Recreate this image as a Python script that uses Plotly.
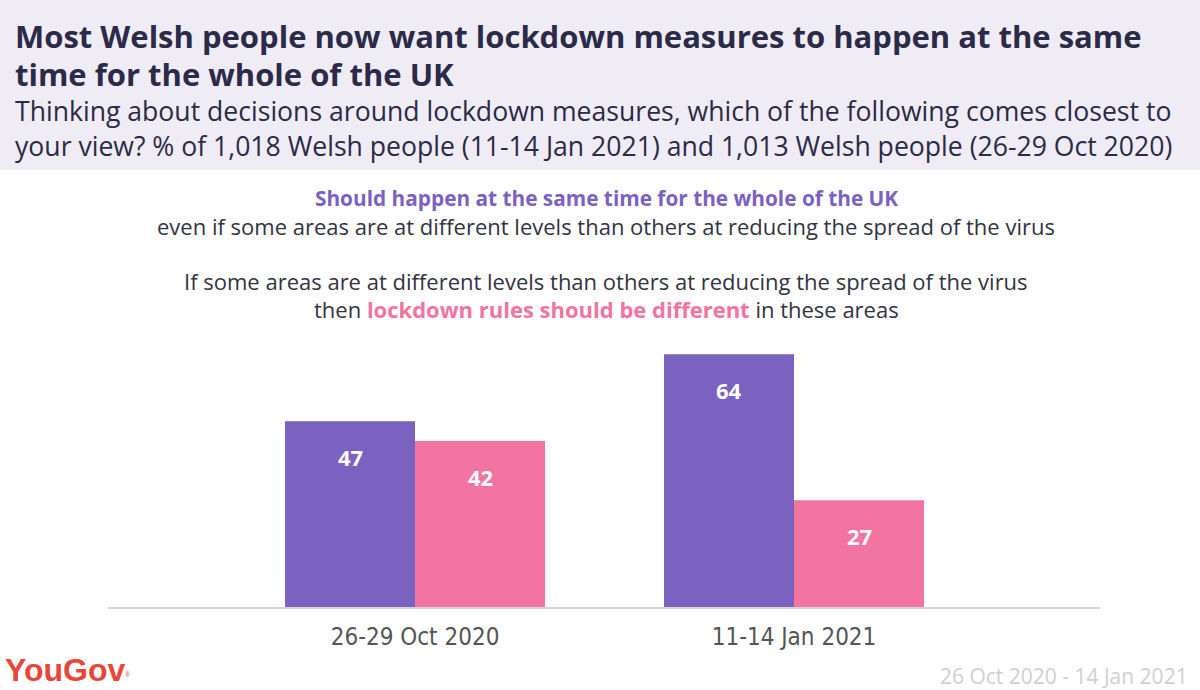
import plotly.graph_objects as go

categories = ["26-29 Oct 2020", "11-14 Jan 2021"]
same_time = [47, 64]
different = [42, 27]
series_names = ["Should happen at the same time for the whole of the UK",
                "lockdown rules should be different"]

PURPLE = "#7b61c0"
PINK = "#f274a0"
DARK = "#2b2a48"
FONT = "Open Sans"

xpos = list(range(len(categories)))

fig = go.Figure()
fig.add_trace(go.Bar(x=xpos, y=same_time, name=series_names[0],
                     marker=dict(color=PURPLE, line=dict(width=0))))
fig.add_trace(go.Bar(x=xpos, y=different, name=series_names[1],
                     marker=dict(color=PINK, line=dict(width=0))))

annotations = []
off = 0.343 / 2
for i in xpos:
    for vals, d in ((same_time, -off), (different, off)):
        annotations.append(dict(x=i + d, y=vals[i], xref="x", yref="y",
                                text=f"<b>{vals[i]}</b>", showarrow=False,
                                yshift=-36, font=dict(color="white", size=22, family=FONT)))

def lx(px):
    return (px - 108) / 992

def ly(py):
    return 1 + (330 - py) / 277

# header texts
annotations += [
    dict(xref="paper", yref="paper", x=lx(13), y=ly(36), xanchor="left", yanchor="middle",
         text="<b>Most Welsh people now want lockdown measures to happen at the same</b>",
         showarrow=False, font=dict(size=31, color=DARK, family=FONT), align="left"),
    dict(xref="paper", yref="paper", x=lx(13), y=ly(74), xanchor="left", yanchor="middle",
         text="<b>time for the whole of the UK</b>",
         showarrow=False, font=dict(size=31, color=DARK, family=FONT), align="left"),
    dict(xref="paper", yref="paper", x=lx(13), y=ly(129), xanchor="left", yanchor="middle",
         text="Thinking about decisions around lockdown measures, which of the following comes closest to"
              "<br>your view? % of 1,018 Welsh people (11-14 Jan 2021) and 1,013 Welsh people (26-29 Oct 2020)",
         showarrow=False, font=dict(size=26.6, color=DARK, family=FONT), align="left"),
]

leg_x = lx(606)
annotations += [
    dict(xref="paper", yref="paper", x=leg_x, y=ly(198), xanchor="center", yanchor="middle",
         text=f"<b>{series_names[0]}</b>", showarrow=False,
         font=dict(size=20.8, color=PURPLE, family=FONT)),
    dict(xref="paper", yref="paper", x=leg_x, y=ly(226), xanchor="center", yanchor="middle",
         text="even if some areas are at different levels than others at reducing the spread of the virus",
         showarrow=False, font=dict(size=22, color="#333344", family=FONT)),
    dict(xref="paper", yref="paper", x=leg_x, y=ly(281), xanchor="center", yanchor="middle",
         text="If some areas are at different levels than others at reducing the spread of the virus",
         showarrow=False, font=dict(size=22, color="#333344", family=FONT)),
    dict(xref="paper", yref="paper", x=leg_x, y=ly(309), xanchor="center", yanchor="middle",
         text=f"then <b><span style='color:{PINK}'>{series_names[1]}</span></b> in these areas",
         showarrow=False, font=dict(size=22, color="#333344", family=FONT)),
    dict(xref="paper", yref="paper", x=lx(3), y=ly(670), xanchor="left", yanchor="middle",
         text="<b>YouGov</b><span style='font-size:9px'><sup>®</sup></span>", showarrow=False,
         font=dict(size=32, color="#e8463a", family="Liberation Sans")),
    dict(xref="paper", yref="paper", x=lx(1190), y=ly(676), xanchor="right", yanchor="middle",
         text="26 Oct 2020 - 14 Jan 2021", showarrow=False,
         font=dict(size=21, color="#d0d0d0", family=FONT)),
]

scale = 379
fig.update_layout(
    width=1200, height=690,
    margin=dict(l=108, r=100, t=330, b=83),
    paper_bgcolor="white", plot_bgcolor="white",
    barmode="group", bargap=1 - 0.686, bargroupgap=0,
    showlegend=False,
    xaxis=dict(range=[-(415-108)/scale, 1 + (1100-794)/scale],
               tickmode="array", tickvals=xpos, ticktext=categories,
               showgrid=False, zeroline=False, showline=True, linecolor="#d4d4d4", linewidth=2,
               ticks="", ticklabelstandoff=7,
               tickfont=dict(size=24, color="#555555", family="DejaVu Sans Condensed")),
    yaxis=dict(range=[0, 277/3.95], visible=False, showgrid=False, zeroline=False),
    annotations=annotations,
    shapes=[dict(type="rect", xref="paper", yref="paper", x0=-0.2, x1=1.2,
                 y0=ly(170), y1=ly(0), fillcolor="#efecf5", line=dict(width=0), layer="below")],
)

fig.write_html("out.html", config={"displayModeBar": False},
               post_script="document.body.style.margin='0';document.body.style.overflow='hidden';")
